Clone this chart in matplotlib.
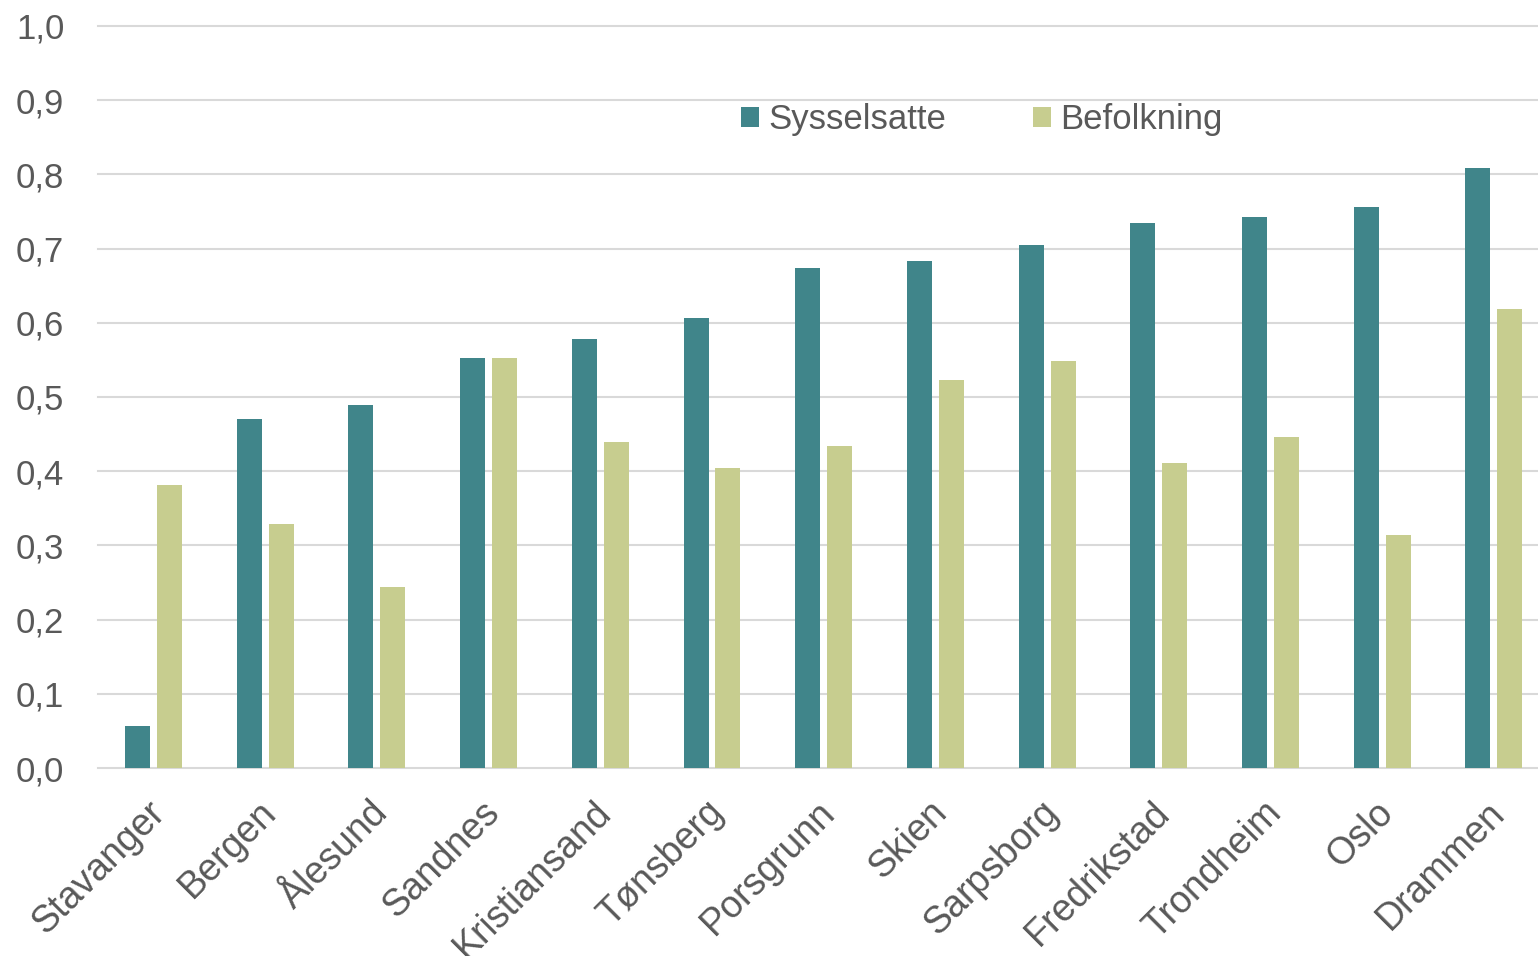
import matplotlib.pyplot as plt
import matplotlib.transforms as mtransforms
import numpy as np

plt.rcParams['font.family'] = ['Liberation Sans', 'DejaVu Sans']

byer = ['Stavanger', 'Bergen', 'Ålesund', 'Sandnes', 'Kristiansand', 'Tønsberg',
        'Porsgrunn', 'Skien', 'Sarpsborg', 'Fredrikstad', 'Trondheim', 'Oslo', 'Drammen']
sysselsatte = [0.057, 0.470, 0.489, 0.553, 0.578, 0.606, 0.674, 0.683, 0.705,
               0.734, 0.743, 0.756, 0.809]
befolkning = [0.381, 0.329, 0.244, 0.553, 0.439, 0.404, 0.434, 0.523, 0.549,
              0.411, 0.446, 0.314, 0.619]

teal = '#40858A'
green = '#C7CD8F'
textcol = '#595959'
gridcol = '#D9D9D9'

fig = plt.figure(figsize=(15.38, 9.56), dpi=100)
# aksen går litt forbi høyre kant, som i originalen
ax = fig.add_axes([97.7 / 1538, 1 - 768 / 956, 1452 / 1538, (768 - 26) / 956])

x = np.arange(len(byer))
w = 0.224
ax.bar(x - 0.143, sysselsatte, w, color=teal, label='Sysselsatte', zorder=3)
ax.bar(x + 0.143, befolkning, w, color=green, label='Befolkning', zorder=3)

ax.set_xlim(-0.5, len(byer) - 0.5)
ax.set_ylim(0, 1.0)
yt = np.arange(0, 1.01, 0.1)
ax.set_yticks(yt)
ax.set_yticklabels([('%.1f' % v).replace('.', ',') for v in yt])
ax.yaxis.grid(True, color=gridcol, linewidth=1.5, zorder=0)
ax.set_axisbelow(True)
for s in ax.spines.values():
    s.set_visible(False)
for gl in ax.get_ygridlines():
    gl.set_clip_on(False)

ax.set_xticks(x)
ax.set_xticklabels(byer, rotation=45, ha='right', va='top', rotation_mode='anchor')
ax.tick_params(axis='both', length=0, labelcolor=textcol)
ax.tick_params(axis='y', pad=24, labelsize=25)
ax.tick_params(axis='x', pad=19, labelsize=27)
shift = mtransforms.ScaledTranslation(-7 / 100, 0, fig.dpi_scale_trans)
for lab in ax.get_xticklabels():
    lab.set_transform(lab.get_transform() + shift)

ax.legend(loc='center', bbox_to_anchor=(0.609, 0.874), ncol=2, frameon=False,
          fontsize=25, labelcolor=textcol, handlelength=0.52, handleheight=0.52,
          handletextpad=0.26, columnspacing=2.5)

fig.savefig('out.png', dpi=100)
